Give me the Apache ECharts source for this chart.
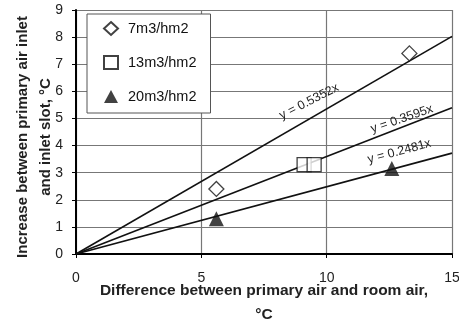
<!DOCTYPE html>
<html><head><meta charset="utf-8">
<script src="https://cdn.jsdelivr.net/npm/echarts@6/dist/echarts.min.js"></script>
<style>html,body{margin:0;padding:0;background:#fff}#c{width:459px;height:322px}</style>
</head><body><div id="c"></div>
<script>
var seriesNames = ['7m3/hm2', '13m3/hm2', '20m3/hm2'];
var pts7 = [[5.6, 2.4], [13.3, 7.4]];
var pts13 = [[9.1, 3.3], [9.5, 3.3]];
var pts20 = [[5.6, 1.3], [12.6, 3.15]];
var slopes = [0.5352, 0.3595, 0.2481];
var fitLabels = ['y = 0.5352x', 'y = 0.3595x', 'y = 0.2481x'];
var labelPos = [[9.3, 5.62], [13.0, 4.98], [12.9, 3.78]];
var labelRot = [27, 19, 15];
var xTicks = [0, 5, 10, 15];
var yTicks = [0, 1, 2, 3, 4, 5, 6, 7, 8, 9];

var font = 'Liberation Sans, Arial, sans-serif';
var chart = echarts.init(document.getElementById('c'));
var fitSeries = slopes.map(function (s, i) {
  return {
    type: 'line', name: 'fit' + i, data: [[0, 0], [15, s * 15]],
    symbol: 'none', lineStyle: {color: '#111', width: 1.6}, silent: true,
    markPoint: {
      symbol: 'circle', symbolSize: 0,
      data: [{coord: labelPos[i], value: fitLabels[i]}],
      label: {show: true, formatter: fitLabels[i], rotate: labelRot[i], color: '#222', fontSize: 12.5, fontFamily: font}
    },
    z: 1
  };
});
chart.setOption({
  animation: false,
  backgroundColor: '#fff',
  grid: {left: 76, right: 7, top: 10, bottom: 68, containLabel: false, outerBoundsMode: 'none'},
  legend: {
    data: seriesNames, orient: 'vertical', left: 87, top: 14,
    width: 130, height: 105,
    padding: [7, 14, 9, 16], itemGap: 19, itemWidth: 14, itemHeight: 13,
    backgroundColor: '#fff', borderColor: '#555', borderWidth: 1,
    textStyle: {fontSize: 14.5, fontFamily: font, color: '#111', padding: [0, 0, 0, 5]}
  },
  xAxis: {
    type: 'value', min: 0, max: 15, interval: 5,
    name: 'Difference between primary air and room air,\n°C',
    nameLocation: 'middle', nameGap: 25, nameMoveOverlap: false,
    nameTextStyle: {fontSize: 15.5, fontWeight: 'bold', fontFamily: font, color: '#222', lineHeight: 24},
    axisLine: {lineStyle: {color: '#000', width: 2}},
    axisTick: {show: true, length: 4, lineStyle: {color: '#000'}},
    axisLabel: {fontSize: 14, fontFamily: font, color: '#222', margin: 17},
    splitLine: {show: true, lineStyle: {color: '#777', width: 1.2}}
  },
  yAxis: {
    type: 'value', min: 0, max: 9, interval: 1,
    name: 'Increase between primary air inlet\nand inlet slot, °C',
    nameLocation: 'middle', nameGap: 19, nameMoveOverlap: false,
    nameTextStyle: {fontSize: 15, fontWeight: 'bold', fontFamily: font, color: '#222', lineHeight: 23, padding: [0, 10, 0, 0]},
    axisLine: {lineStyle: {color: '#000', width: 2}},
    axisTick: {show: true, length: 4, lineStyle: {color: '#000'}},
    axisLabel: {fontSize: 14, fontFamily: font, color: '#222', margin: 13},
    splitLine: {show: true, lineStyle: {color: '#777', width: 1.2}}
  },
  series: fitSeries.concat([
    {type: 'scatter', name: seriesNames[0], data: pts7, symbol: 'diamond', symbolSize: 15,
     itemStyle: {color: '#fff', borderColor: '#111', borderWidth: 1.3}, z: 3},
    {type: 'scatter', name: seriesNames[1], data: pts13, symbol: 'rect', symbolSize: 14,
     itemStyle: {color: '#fff', borderColor: '#111', borderWidth: 1.3}, z: 3},
    {type: 'scatter', name: seriesNames[2], data: pts20, symbol: 'triangle', symbolSize: 15,
     itemStyle: {color: '#111'}, z: 3}
  ])
});
</script></body></html>
